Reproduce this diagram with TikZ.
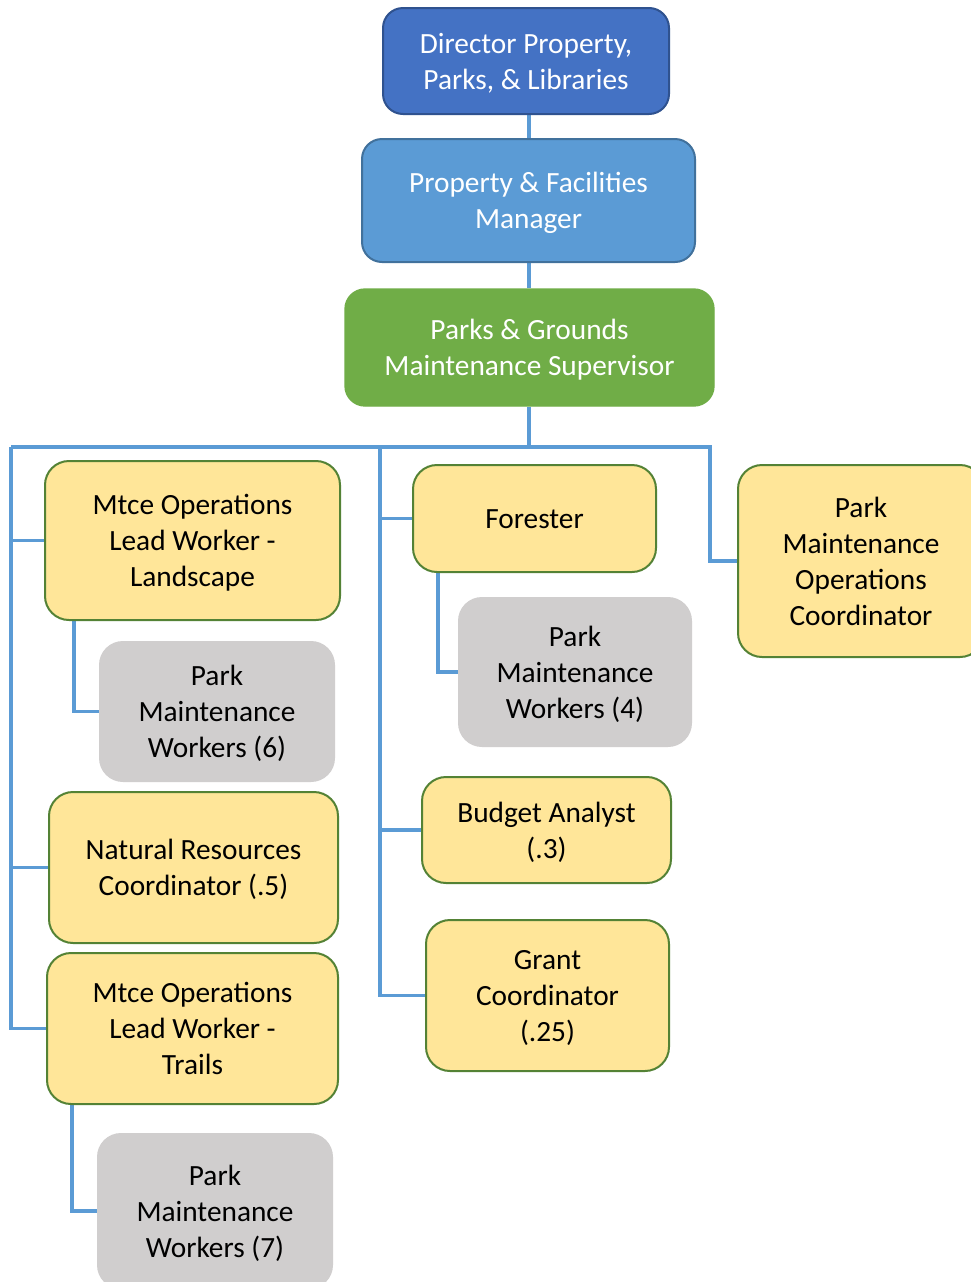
\documentclass[tikz,border=0pt]{standalone}
\usepackage{fontspec}
\setmainfont{Carlito}
\usetikzlibrary{backgrounds}
\definecolor{dirblue}{HTML}{4472C4}
\definecolor{dirborder}{HTML}{2F528F}
\definecolor{mgrblue}{HTML}{5B9BD5}
\definecolor{mgrborder}{HTML}{41719C}
\definecolor{supgreen}{HTML}{70AD47}
\definecolor{yfill}{HTML}{FFE699}
\definecolor{yborder}{HTML}{548235}
\definecolor{gfill}{HTML}{D0CECE}
\definecolor{linkblue}{HTML}{5B9BD5}
\newcommand\lnstrut{\rule{0pt}{20.4pt}}
\tikzset{
  sz/.style 2 args={minimum width=#1*0.75pt, minimum height=#2*0.75pt},
  base/.style={rectangle, rounded corners=15pt, align=center, inner sep=0pt,
    font=\fontsize{22}{27}\selectfont, text=black,
    execute at end node={\rule[-5pt]{0pt}{5pt}}},
  dirbox/.style={base, fill=dirblue, draw=dirborder, line width=1.5pt, text=white},
  mgrbox/.style={base, fill=mgrblue, draw=mgrborder, line width=1.5pt, text=white},
  supbox/.style={base, fill=supgreen, draw=supgreen, line width=1pt, text=white},
  ybox/.style={base, rounded corners=18pt, fill=yfill, draw=yborder, line width=1.5pt},
  gbox/.style={base, rounded corners=18pt, fill=gfill},
  conn/.style={draw=linkblue, line width=2.6pt}
}
\begin{document}
\begin{tikzpicture}[x=0.75pt, y=-0.75pt]
\useasboundingbox (0,0) rectangle (971,1282);
\clip (0,0) rectangle (971,1282);

% nodes
\node[dirbox, sz={286}{106}] (dir) at (526,61) {\lnstrut Director Property,\\Parks, \& Libraries};
\node[mgrbox, sz={333}{123}] (pfm) at (528.5,200.5) {\lnstrut Property \& Facilities\\Manager};
\node[supbox, sz={369}{117}] (pgm) at (529.5,347.5) {\lnstrut Parks \& Grounds\\Maintenance Supervisor};
\node[ybox, sz={295}{159}] (land) at (192.5,540.5) {\lnstrut Mtce Operations\\Lead Worker -\\Landscape};
\node[gbox, sz={236}{141}] (pmw6) at (217,711.5) {\lnstrut Park\\Maintenance\\Workers (6)};
\node[ybox, sz={289}{151}] (nat) at (193.5,867.5) {\lnstrut Natural Resources\\Coordinator (.5)};
\node[ybox, sz={291}{151}] (trails) at (192.5,1028.5) {\lnstrut Mtce Operations\\Lead Worker -\\Trails};
\node[gbox, sz={236}{156}] (pmw7) at (215,1211) {\lnstrut Park\\Maintenance\\Workers (7)};
\node[ybox, sz={243}{107}] (forester) at (534.5,518.5) {\lnstrut Forester};
\node[gbox, sz={234}{150}] (pmw4) at (575,672) {\lnstrut Park\\Maintenance\\Workers (4)};
\node[ybox, sz={249}{106}] (budget) at (546.5,830) {\lnstrut Budget Analyst\\(.3)};
\node[ybox, sz={243}{151}] (grant) at (547.5,995.5) {\lnstrut Grant\\Coordinator\\(.25)};
\node[ybox, sz={246}{192}] (pmoc) at (861,561) {\lnstrut Park\\Maintenance\\Operations\\Coordinator};

% bus coordinates
\coordinate (busL) at (11,447);
\coordinate (busM) at (380,447);
\coordinate (busC) at (529,447);
\coordinate (busR) at (710,447);

\begin{scope}[on background layer]
\fill[white] (0,0) rectangle (971,1282);
\draw[conn] (dir.south -| busC) -- (pfm.north -| busC);
\draw[conn] (pfm.south -| busC) -- (pgm.north -| busC);
\draw[conn] (pgm.south -| busC) -- (busC);
\draw[conn] (busL) -- (busR) |- (pmoc.west);
\draw[conn] (busL) |- (trails.west);
\draw[conn] (busL |- land.west) -- (land.west);
\draw[conn] (busL |- nat.west) -- (nat.west);
\draw[conn] (busM) |- (grant.west);
\draw[conn] (busM |- forester.west) -- (forester.west);
\draw[conn] (busM |- budget.west) -- (budget.west);
\draw[conn] ([xshift=22.5pt]land.south west) |- (pmw6.west);
\draw[conn] ([xshift=19.5pt]forester.south west) |- (pmw4.west);
\draw[conn] ([xshift=19.5pt]trails.south west) |- (pmw7.west);
\end{scope}
\end{tikzpicture}
\end{document}
